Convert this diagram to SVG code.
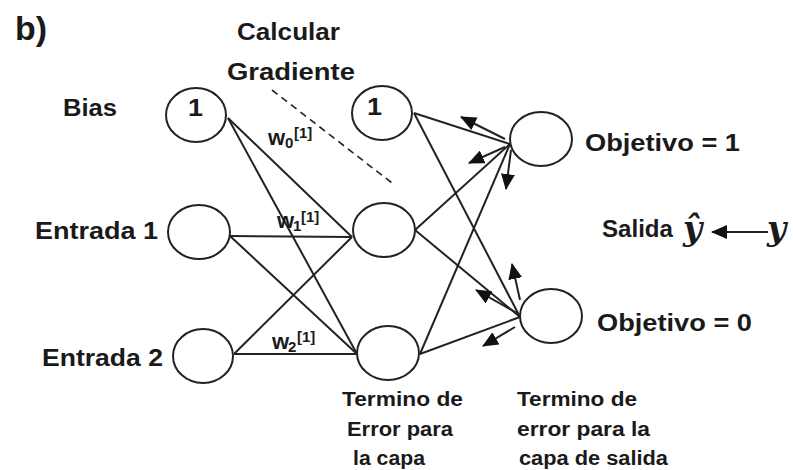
<svg xmlns="http://www.w3.org/2000/svg" width="793" height="470" viewBox="0 0 793 470">
<style>
.t{font-family:"Liberation Sans",Arial,sans-serif;font-weight:bold;fill:#1a1a1a;font-size:23px}
.s{font-size:20px}
.w{font-family:"Liberation Sans",Arial,sans-serif;font-weight:bold;fill:#1a1a1a;font-size:22px}
.sm{font-size:15px}
.m{font-family:"DejaVu Serif",serif;font-style:italic;font-weight:bold;fill:#1a1a1a;font-size:33px}
.n{fill:#fff;stroke:#222;stroke-width:2}
.c line{stroke:#222;stroke-width:2}
</style>
<defs>
<marker id="ah" markerUnits="userSpaceOnUse" markerWidth="16" markerHeight="14" refX="15" refY="7" orient="auto">
<path d="M0,0 L16,7 L0,14 Z" fill="#111"/>
</marker>
</defs>
<rect width="793" height="470" fill="#fff"/>
<text class="t" x="15" y="40" style="font-size:33px" textLength="32" lengthAdjust="spacingAndGlyphs">b)</text>
<text class="t" x="237" y="40" style="font-size:23px" textLength="103" lengthAdjust="spacingAndGlyphs">Calcular</text>
<text class="t" x="227" y="80" style="font-size:23px" textLength="128" lengthAdjust="spacingAndGlyphs">Gradiente</text>
<g id="connectors" class="c">
<line x1="228" y1="118" x2="352" y2="237"/>
<line x1="228" y1="118" x2="357" y2="354"/>
<line x1="230" y1="236" x2="352" y2="237"/>
<line x1="230" y1="236" x2="357" y2="354"/>
<line x1="234" y1="354" x2="352" y2="237"/>
<line x1="234" y1="354" x2="357" y2="354"/>
<line x1="414" y1="113" x2="510" y2="144"/>
<line x1="414" y1="113" x2="520" y2="317"/>
<line x1="415" y1="230" x2="510" y2="144"/>
<line x1="415" y1="230" x2="520" y2="317"/>
<line x1="420" y1="354" x2="510" y2="144"/>
<line x1="420" y1="354" x2="520" y2="317"/>
<line x1="272" y1="90" x2="392" y2="183" stroke-dasharray="7 5" style="stroke-width:1.6"/>
<line x1="505" y1="139" x2="461" y2="117" marker-end="url(#ah)"/>
<line x1="505" y1="147" x2="469" y2="163" marker-end="url(#ah)"/>
<line x1="511" y1="150" x2="506" y2="189" marker-end="url(#ah)"/>
<line x1="520" y1="300" x2="512" y2="264" marker-end="url(#ah)"/>
<line x1="517" y1="313" x2="476" y2="290" marker-end="url(#ah)"/>
<line x1="515" y1="327" x2="483" y2="346" marker-end="url(#ah)"/>
<line x1="768" y1="232" x2="712" y2="232" marker-end="url(#ah)"/>
</g>
<g id="bias"><ellipse class="n" cx="196" cy="115" rx="30" ry="27"/><text class="t" x="188" y="116" textLength="15" lengthAdjust="spacingAndGlyphs">1</text></g>
<text class="t" x="63" y="116" textLength="54" lengthAdjust="spacingAndGlyphs">Bias</text>
<g id="entrada1"><ellipse class="n" cx="199" cy="232" rx="31" ry="27"/></g>
<text class="t" x="35" y="239" textLength="123" lengthAdjust="spacingAndGlyphs">Entrada 1</text>
<g id="entrada2"><ellipse class="n" cx="203" cy="356" rx="30" ry="27"/></g>
<text class="t" x="42" y="366" textLength="121" lengthAdjust="spacingAndGlyphs">Entrada 2</text>
<g id="hbias"><ellipse class="n" cx="382" cy="113" rx="30" ry="27"/><text class="t" x="367" y="115" textLength="15" lengthAdjust="spacingAndGlyphs">1</text></g>
<g id="hidden1"><ellipse class="n" cx="384" cy="230" rx="31" ry="27"/></g>
<g id="hidden2"><ellipse class="n" cx="388" cy="353" rx="31" ry="27"/></g>
<g id="out1"><ellipse class="n" cx="541" cy="139" rx="31" ry="27"/></g>
<text class="t" x="585" y="151" textLength="155" lengthAdjust="spacingAndGlyphs">Objetivo = 1</text>
<g id="out2"><ellipse class="n" cx="551" cy="316" rx="31" ry="27"/></g>
<text class="t" x="597" y="331" textLength="155" lengthAdjust="spacingAndGlyphs">Objetivo = 0</text>
<g id="weights">
<text class="w" x="268" y="145">w</text><text class="w sm" x="285" y="148">0</text><text class="w sm" x="294" y="138">[1]</text>
<text class="w" x="277" y="228">w</text><text class="w sm" x="293" y="231">1</text><text class="w sm" x="301" y="222">[1]</text>
<text class="w" x="272" y="349">w</text><text class="w sm" x="288" y="352">2</text><text class="w sm" x="297" y="342">[1]</text>
</g>
<g id="salida">
<text class="t" x="602" y="237" textLength="71" lengthAdjust="spacingAndGlyphs">Salida</text>
<text class="m" x="683" y="240">ŷ</text>
<text class="m" x="767" y="240">y</text>
</g>
<g id="labels">
<text class="t s" x="342" y="406" textLength="121" lengthAdjust="spacingAndGlyphs">Termino de</text>
<text class="t s" x="347" y="436" textLength="106" lengthAdjust="spacingAndGlyphs">Error para</text>
<text class="t s" x="353" y="465" textLength="72" lengthAdjust="spacingAndGlyphs">la capa</text>
<text class="t s" x="517" y="406" textLength="120" lengthAdjust="spacingAndGlyphs">Termino de</text>
<text class="t s" x="517" y="436" textLength="133" lengthAdjust="spacingAndGlyphs">error para la</text>
<text class="t s" x="519" y="465" textLength="149" lengthAdjust="spacingAndGlyphs">capa de salida</text>
</g>
</svg>
